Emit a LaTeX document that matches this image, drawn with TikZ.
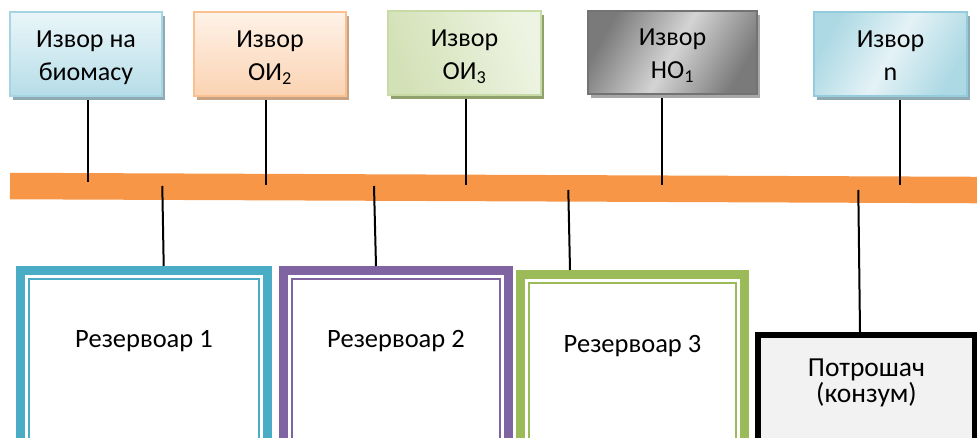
\documentclass[tikz,border=0pt]{standalone}
\usepackage{fontspec}
\setmainfont{Carlito}
\usetikzlibrary{shadows}

% palette
\definecolor{barorange}{HTML}{F79646}
\definecolor{tankaqua}{HTML}{4BACC6}
\definecolor{tankpurple}{HTML}{8064A2}
\definecolor{tankgreen}{HTML}{9BBB59}
\definecolor{consfill}{HTML}{F2F2F2}
\definecolor{bioline}{HTML}{A5D5E2}
\definecolor{biotop}{HTML}{EAF6F9}
\definecolor{biobot}{HTML}{B6DDE8}
\definecolor{bioshade}{HTML}{8FAAB3}
\definecolor{oitwoline}{HTML}{FAC08F}
\definecolor{oitwotop}{HTML}{FEF2E8}
\definecolor{oitwobot}{HTML}{FBD3B2}
\definecolor{oitwoshade}{HTML}{C6A384}
\definecolor{oithreeline}{HTML}{C9DBA5}
\definecolor{oithreeleft}{HTML}{D3E1B7}
\definecolor{oithreeright}{HTML}{EEF4E3}
\definecolor{oithreeshade}{HTML}{8FA26E}
\definecolor{hoonline}{HTML}{737373}
\definecolor{hooedge}{HTML}{7A7A7A}
\definecolor{hoomid}{HTML}{D4D4D4}
\definecolor{hooshade}{HTML}{A8A8A8}
\definecolor{nline}{HTML}{93CDDD}
\definecolor{nedge}{HTML}{ADD9E4}
\definecolor{nmid}{HTML}{E4F2F6}

% vertical spacers for the two-line labels
\newcommand\firstrow{\rule{0pt}{27pt}}
\newcommand\lastrow{\rule[-7pt]{0pt}{7pt}}
% text styles
\newcommand\srcfont{\fontsize{26}{33}\selectfont}
\newcommand\tankfont{\fontsize{26.5}{30}\selectfont}
\newcommand\consfont{\fontsize{27.5}{26.5}\selectfont\lineskiplimit-20pt\relax}

\begin{document}
\begin{tikzpicture}[x=1pt, y=-1pt,
  srcbox/.style={rectangle, outer sep=1pt, inner sep=0pt, line width=2pt,
    minimum width=152pt, minimum height=84pt, align=center, font=\srcfont},
  srcshadow/.style={drop shadow={shadow xshift=3pt, shadow yshift=-4pt,
    fill=#1, opacity=1}},
  tank/.style={rectangle, outer sep=4.5pt, inner sep=0pt, draw=#1,
    line width=9pt, fill=white, minimum height=200pt, text height=0pt,
    font=\tankfont},
  tankinner/.style={draw=#1, line width=2pt},
  consumer/.style={rectangle, outer sep=3pt, inner sep=0pt, draw=black,
    line width=6pt, fill=consfill, minimum width=217pt, minimum height=120pt,
    align=center, font=\consfont},
  busbar/.style={rectangle, inner sep=0pt, fill=barorange,
    minimum width=1000pt, minimum height=26.5pt, rotate=-0.237},
  wire/.style={draw=black, line width=2pt}]

\useasboundingbox (0,0) rectangle (977,438);
\clip (0,0) rectangle (977,438);

% common bus
\node[busbar] (bar) at (510,188.1) {};

% sources
\node[srcbox, draw=bioline, top color=biotop, bottom color=biobot,
  srcshadow=bioshade] (b1) at (86,54) {\firstrow Извор на\\\lastrow биомасу};
\node[srcbox, draw=oitwoline, top color=oitwotop, bottom color=oitwobot,
  srcshadow=oitwoshade] (b2) at (270,54) {\firstrow Извор\\\lastrow ОИ\textsubscript{2}};
\node[srcbox, minimum width=153pt, draw=oithreeline, left color=oithreeleft,
  right color=oithreeright, shading angle=110, srcshadow=oithreeshade]
  (b3) at (464.5,53.5) {\firstrow Извор\\\lastrow ОИ\textsubscript{3}};
\node[srcbox, minimum width=169pt, minimum height=83pt, draw=hoonline,
  left color=hooedge, right color=hooedge, middle color=hoomid,
  shading angle=60, srcshadow=hooshade]
  (b4) at (672.5,52.5) {\firstrow Извор\\\lastrow НО\textsubscript{1}};
\node[srcbox, minimum width=153pt, draw=nline, left color=nedge,
  right color=nedge, middle color=nmid, shading angle=60, srcshadow=bioshade]
  (b5) at (890.5,54.5) {\firstrow Извор\\\lastrow n};

% reservoirs and consumer
\node[tank=tankaqua, minimum width=247pt, text depth=47pt] (r1) at (144,370.5) {Резервоар 1};
\node[tank=tankpurple, minimum width=225pt, text depth=47pt] (r2) at (396,370.5) {Резервоар 2};
\node[tank=tankgreen, minimum width=224pt, text depth=45pt] (r3) at (632.5,374.5) {Резервоар 3};
\foreach \t/\c in {r1/tankaqua, r2/tankpurple, r3/tankgreen}
  \draw[tankinner=\c] ([shift={(13,13)}]\t.north west) rectangle ([shift={(-13,-13)}]\t.south east);

\node[consumer] (c) at (866.5,395) {\rule{0pt}{20pt}Потрошач\\\rule[-31.5pt]{0pt}{31.5pt}(конзум)};

% taps on the bus
\coordinate (u1) at (87.5,182);
\coordinate (u2) at (265.7,185);
\coordinate (u3) at (465.7,185);
\coordinate (u4) at (662.3,185);
\coordinate (u5) at (900,185);
\coordinate (d1) at (162.3,186);
\coordinate (d2) at (374,186);
\coordinate (d3) at (568.3,190);
\coordinate (d4) at (858.3,190);

% source feeders
\foreach \i in {1,...,5}
  \draw[wire] ([yshift=-3pt]u\i |- b\i.south) -- (u\i);

% outgoing feeders
\draw[wire] (d1) -- ([xshift=19.7pt]r1.north);
\draw[wire] (d2) -- ([xshift=-20pt]r2.north);
\draw[wire] (d3) -- ([xshift=-62.5pt]r3.north);
\draw[wire] (d4) -- ([xshift=-6.5pt]c.north);
\end{tikzpicture}
\end{document}
